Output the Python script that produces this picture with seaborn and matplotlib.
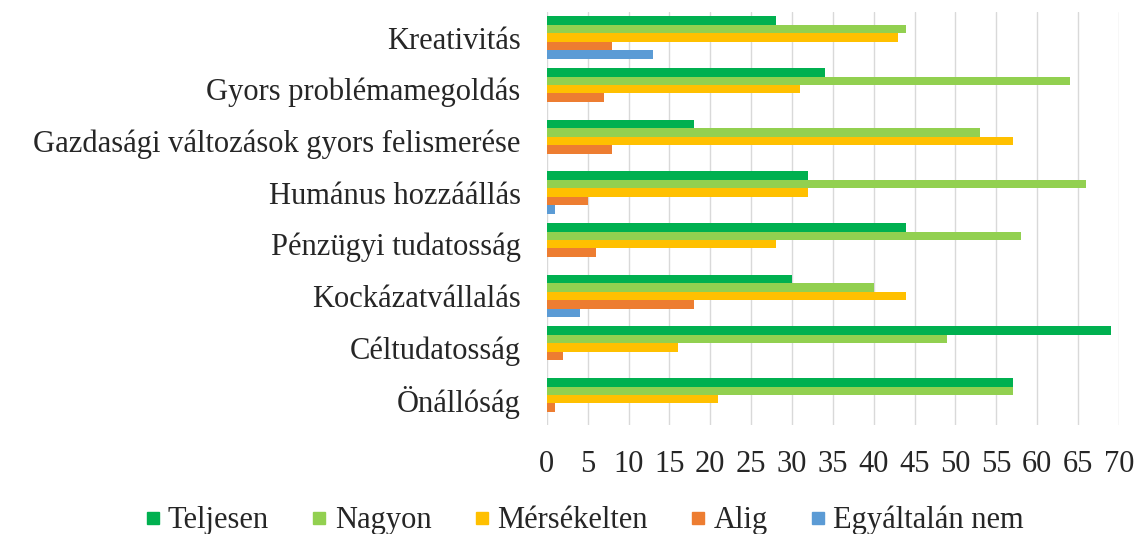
import matplotlib
matplotlib.use("Agg")
import matplotlib.pyplot as plt
import seaborn as sns
import pandas as pd
from matplotlib.lines import Line2D

categories = ["Kreativitás", "Gyors problémamegoldás", "Gazdasági változások gyors felismerése",
              "Humánus hozzáállás", "Pénzügyi tudatosság", "Kockázatvállalás",
              "Céltudatosság", "Önállóság"]
series = ["Teljesen", "Nagyon", "Mérsékelten", "Alig", "Egyáltalán nem"]
teljesen = [28, 34, 18, 32, 44, 30, 69, 57]
nagyon = [44, 64, 53, 66, 58, 40, 49, 57]
merseklten = [43, 31, 57, 32, 28, 44, 16, 21]
alig = [8, 7, 8, 5, 6, 18, 2, 1]
egyaltalan = [13, 0, 0, 1, 0, 4, 0, 0]
xticks = list(range(0, 75, 5))
colors = ["#00B050", "#92D050", "#FFC000", "#ED7D31", "#5B9BD5"]

values = [teljesen, nagyon, merseklten, alig, egyaltalan]
rows = []
for s, vals in zip(series, values):
    for c, v in zip(categories, vals):
        rows.append({"cat": c, "series": s, "val": v})
df = pd.DataFrame(rows)

sns.set_theme(style="white")
plt.rcParams["font.family"] = ["Liberation Serif", "DejaVu Serif"]

fig = plt.figure(figsize=(11.37, 5.34), dpi=100)
ax = fig.add_axes([0.481, 0.204, 0.503, 0.774])
sns.barplot(data=df, y="cat", x="val", hue="series", order=categories,
            hue_order=series, palette=colors, orient="h", width=0.82,
            saturation=1, ax=ax, legend=False, linewidth=0)

ax.set_xlim(0, 70)
ax.set_ylim(7.5, -0.5)
ax.set_xticks(xticks)
ax.set_xticklabels([str(t) for t in xticks], fontsize=22)
ax.tick_params(axis="y", labelsize=22, pad=19, length=0)
ax.tick_params(axis="x", pad=18, length=0)
ax.set_xlabel("")
ax.set_ylabel("")
ax.grid(axis="x", color="#D9D9D9", linewidth=1)
ax.set_axisbelow(True)
for sp in ax.spines.values():
    sp.set_visible(False)

handles = [Line2D([], [], marker="s", linestyle="none", markersize=9,
                  markerfacecolor=c, markeredgecolor=c) for c in colors]
fig.legend(handles, series, loc="center", bbox_to_anchor=(0.512, 0.025),
           ncol=5, frameon=False, fontsize=22, handletextpad=0.1,
           columnspacing=1.25, handlelength=0.8)

fig.savefig("out.png", dpi=100)
